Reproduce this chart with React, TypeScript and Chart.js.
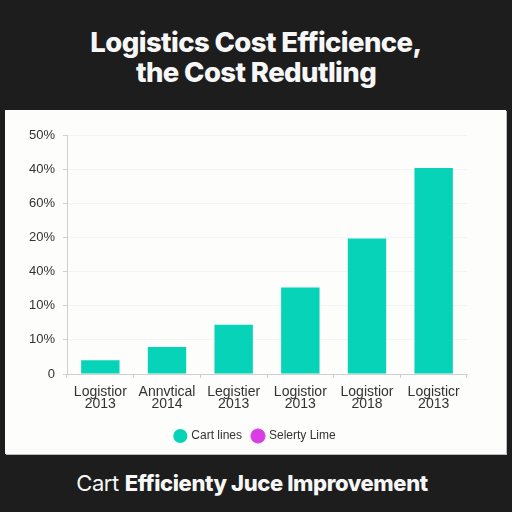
import React, { useEffect, useRef } from "react";
import { Chart, registerables } from "chart.js";

Chart.register(...registerables);

// Category labels (two lines each)
const categories: string[][] = [
  ["Logistior", "2013"],
  ["Annvtical", "2014"],
  ["Legistier", "2013"],
  ["Logistior", "2013"],
  ["Logistior", "2018"],
  ["Logisticr", "2013"],
];

// Bar heights on the 0–70 value scale
const cartLines: number[] = [4.0, 7.9, 14.4, 25.3, 39.7, 60.3];

// Tick labels printed on the y axis, bottom to top
const yTickLabels: string[] = ["0", "10%", "10%", "40%", "20%", "60%", "40%", "50%"];

const seriesNames: string[] = ["Cart lines", "Selerty Lime"];

const TEAL = "#07d3b8";
const MAGENTA = "#d93de6";
const FONT = "'Liberation Sans', Arial, sans-serif";

// Centre the legend across the whole canvas rather than the padded box
const centerLegend = {
  id: "centerLegend",
  afterLayout(chart: any) {
    const lg = chart.legend;
    if (!lg) return;
    lg.left = 0;
    lg.right = chart.width;
    lg.width = chart.width;
  },
};

export default function App() {
  const canvasRef = useRef<HTMLCanvasElement | null>(null);

  useEffect(() => {
    if (!canvasRef.current) return;
    const chart = new Chart(canvasRef.current, {
      type: "bar",
      data: {
        labels: categories,
        datasets: [
          {
            label: seriesNames[0],
            data: cartLines,
            backgroundColor: TEAL,
            borderWidth: 0,
            categoryPercentage: 0.64,
            barPercentage: 0.9,
          },
          {
            type: "line",
            label: seriesNames[1],
            data: [],
            backgroundColor: MAGENTA,
            borderColor: MAGENTA,
          } as any,
        ],
      },
      plugins: [centerLegend],
      options: {
        responsive: false,
        animation: false,
        layout: { padding: { left: 0, right: 39, top: 25, bottom: 2 } },
        plugins: {
          title: { display: false },
          tooltip: { enabled: false },
          legend: {
            position: "bottom",
            labels: {
              usePointStyle: true,
              pointStyle: "circle",
              boxWidth: 10,
              boxHeight: 10,
              padding: 11,
              color: "#333",
              font: { family: FONT, size: 12 },
            },
          },
        },
        scales: {
          x: {
            grid: {
              offset: true,
              drawOnChartArea: false,
              tickLength: 4,
              tickColor: "#cfcfcf",
            },
            border: { color: "#cfcfcf" },
            ticks: {
              color: "#333",
              padding: 8,
              maxRotation: 0,
              font: { family: FONT, size: 14, lineHeight: 0.88 },
            },
            afterFit: (scale: any) => {
              scale.height = 45;
            },
          },
          y: {
            min: 0,
            max: 70,
            grid: {
              color: "rgba(0,0,0,0.035)",
              tickLength: 4,
              tickColor: "#d0d0d0",
            },
            border: { color: "#cfcfcf" },
            ticks: {
              stepSize: 10,
              color: "#333",
              padding: 8,
              font: { family: FONT, size: 13 },
              callback: (v: any) => yTickLabels[Math.round(Number(v) / 10)] ?? "",
            },
            afterFit: (scale: any) => {
              scale.width = 62;
            },
          },
        },
      },
    });
    return () => chart.destroy();
  }, []);

  return (
    <div
      style={{
        position: "fixed",
        inset: 0,
        background: "#1d1d1d",
        overflow: "hidden",
      }}
    >
      <div
        style={{
          position: "absolute",
          top: 27,
          left: 0,
          width: 512,
          textAlign: "center",
          color: "#f7f7f7",
          fontFamily: "Inter, 'Noto Sans', sans-serif",
          fontWeight: 800,
          fontSize: 27.5,
          lineHeight: "30px",
          letterSpacing: "-0.6px",
        }}
      >
        Logistics Cost Efficience,
        <br />
        the Cost Redutling
      </div>
      <div
        style={{
          position: "absolute",
          left: 5,
          top: 110,
          width: 501,
          height: 344,
          background: "#fdfdfb",
          boxShadow: "1px 1px 0 #bdbdbd",
        }}
      >
        <canvas ref={canvasRef} width={501} height={344} style={{ display: "block" }} />
      </div>
      <div
        style={{
          position: "absolute",
          top: 469,
          left: -4,
          width: 512,
          textAlign: "center",
          color: "#f7f7f7",
          fontFamily: "Inter, 'Noto Sans', sans-serif",
          fontSize: 22,
          lineHeight: "28px",
          letterSpacing: "-0.4px",
        }}
      >
        <span style={{ fontWeight: 400 }}>Cart </span>
        <span style={{ fontWeight: 800 }}>Efficienty Juce Improvement</span>
      </div>
    </div>
  );
}
